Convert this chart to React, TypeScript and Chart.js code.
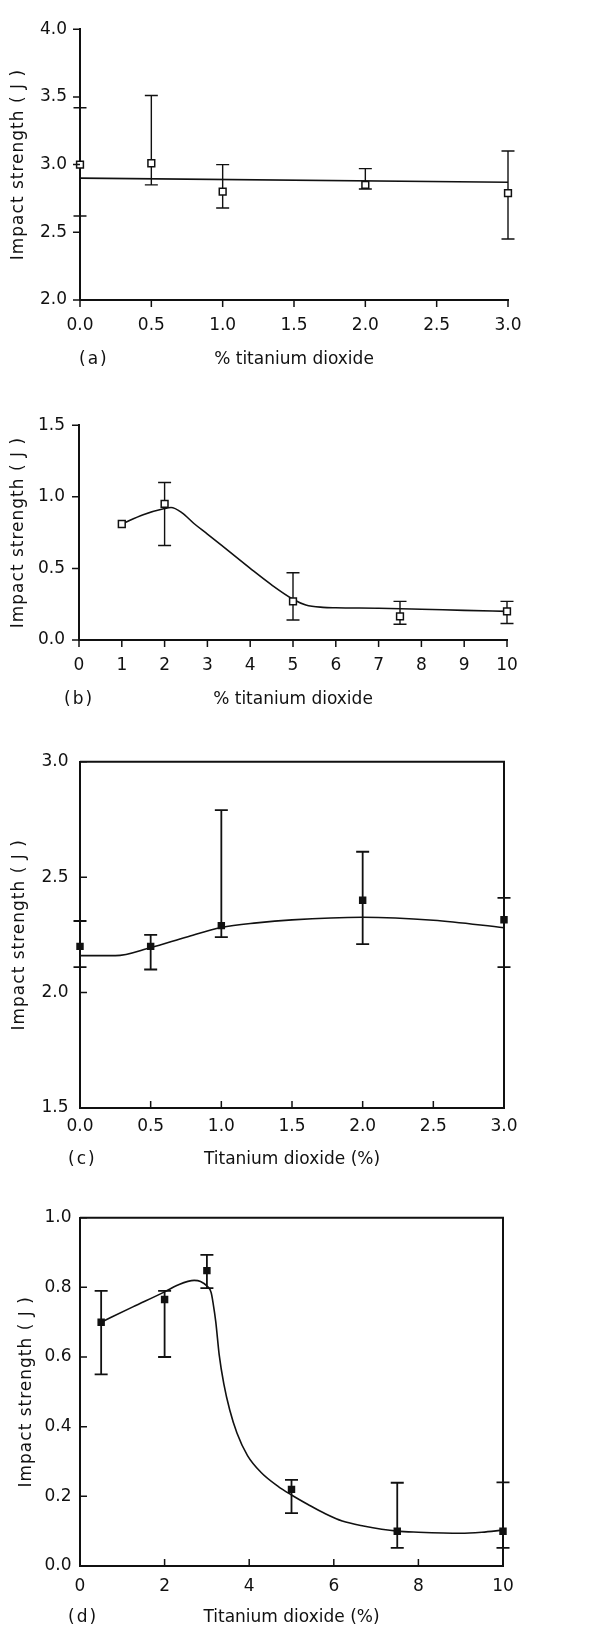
import React, { useEffect, useRef } from 'react';
import { Chart, registerables } from 'chart.js';

Chart.register(...registerables);

const FONT = '"DejaVu Sans", Verdana, sans-serif';
const INK = '#111111';

// ---------- Panel (a) ----------
const aXTicks = [0, 0.5, 1.0, 1.5, 2.0, 2.5, 3.0];
const aYTicks = [2.0, 2.5, 3.0, 3.5, 4.0];
const aX = [0, 0.5, 1.0, 2.0, 3.0];
const aY = [3.0, 3.01, 2.8, 2.85, 2.79];
const aHi = [3.42, 3.51, 3.0, 2.97, 3.1];
const aLo = [2.62, 2.85, 2.68, 2.82, 2.45];
const aFitX = [0, 3.0];
const aFitY = [2.9, 2.87];

// ---------- Panel (b) ----------
const bXTicks = [0, 1, 2, 3, 4, 5, 6, 7, 8, 9, 10];
const bYTicks = [0.0, 0.5, 1.0, 1.5];
const bX = [1, 2, 5, 7.5, 10];
const bY = [0.81, 0.95, 0.27, 0.165, 0.2];
const bHi = [null, 1.1, 0.47, 0.27, 0.27];
const bLo = [null, 0.66, 0.14, 0.11, 0.115];
const bFitX = [1.0, 1.5, 2.0, 2.15, 2.4, 2.7, 3.0, 3.5, 4.0, 4.5, 5.0, 5.3, 5.7, 6.0, 7.0, 8.0, 9.0, 10.0];
const bFitY = [0.81, 0.875, 0.918, 0.925, 0.89, 0.81, 0.74, 0.62, 0.5, 0.385, 0.285, 0.245, 0.228, 0.225, 0.222, 0.215, 0.207, 0.2];

// ---------- Panel (c) ----------
const cXTicks = [0, 0.5, 1.0, 1.5, 2.0, 2.5, 3.0];
const cYTicks = [1.5, 2.0, 2.5, 3.0];
const cX = [0, 0.5, 1.0, 2.0, 3.0];
const cY = [2.2, 2.2, 2.29, 2.4, 2.315];
const cHi = [2.31, 2.25, 2.79, 2.61, 2.41];
const cLo = [2.11, 2.1, 2.24, 2.21, 2.11];
const cFitX = [0, 0.25, 0.5, 0.75, 1.0, 1.25, 1.5, 2.0, 2.5, 3.0];
const cFitY = [2.16, 2.16, 2.195, 2.24, 2.282, 2.302, 2.315, 2.326, 2.313, 2.281];

// ---------- Panel (d) ----------
const dXTicks = [0, 2, 4, 6, 8, 10];
const dYTicks = [0.0, 0.2, 0.4, 0.6, 0.8, 1.0];
const dX = [0.5, 2, 3, 5, 7.5, 10];
const dY = [0.7, 0.765, 0.848, 0.22, 0.1, 0.1];
const dHi = [0.79, 0.79, 0.893, 0.247, 0.239, 0.24];
const dLo = [0.55, 0.6, 0.798, 0.152, 0.052, 0.052];
const dFitX = [0.5, 1.25, 2.0, 2.3, 2.7, 2.85, 3.0, 3.1, 3.15, 3.21, 3.29, 3.4, 3.54, 3.71, 3.96, 4.27, 4.69, 5.0, 5.4, 5.8, 6.2, 6.7, 7.5, 8.0, 9.0, 9.5, 10.0];
const dFitY = [0.7, 0.744, 0.787, 0.806, 0.82, 0.817, 0.804, 0.785, 0.752, 0.701, 0.607, 0.523, 0.448, 0.382, 0.317, 0.27, 0.228, 0.204, 0.176, 0.15, 0.129, 0.115, 0.1, 0.097, 0.094, 0.097, 0.103];

const Y_TITLE = 'Impact strength ( J )';

type Panel = {
  key: string;
  top: number;
  height: number;
  left: number;
  rightPad: number;
  xHeight: number;
  xMin: number; xMax: number; yMin: number; yMax: number;
  xTicks: number[]; yTicks: number[];
  xDec: number; yDec: number;
  xLabelPad: number; yLabelPad: number; yTitleX: number;
  tickOut: boolean;
  frame: boolean;
  filled: boolean;
  barWidth: number;
  px: number[]; py: number[]; hi: (number | null)[]; lo: (number | null)[];
  fx: number[]; fy: number[];
  xTitle: string; tag: string; tagX: number;
};

const panels: Panel[] = [
  {
    key: 'a', top: 6, height: 364, left: 80, rightPad: 101, xHeight: 70,
    xMin: 0, xMax: 3, yMin: 2, yMax: 4, xTicks: aXTicks, yTicks: aYTicks, xDec: 1, yDec: 1,
    xLabelPad: 15.5, yLabelPad: 13, yTitleX: 19, tickOut: true, frame: false, filled: false, barWidth: 1.4,
    px: aX, py: aY, hi: aHi, lo: aLo, fx: aFitX, fy: aFitY,
    xTitle: '% titanium dioxide', tag: '(a)', tagX: 79,
  },
  {
    key: 'b', top: 401, height: 309, left: 79, rightPad: 102, xHeight: 70,
    xMin: 0, xMax: 10, yMin: 0, yMax: 1.5, xTicks: bXTicks, yTicks: bYTicks, xDec: 0, yDec: 1,
    xLabelPad: 15.5, yLabelPad: 14, yTitleX: 19, tickOut: true, frame: false, filled: false, barWidth: 1.4,
    px: bX, py: bY, hi: bHi, lo: bLo, fx: bFitX, fy: bFitY,
    xTitle: '% titanium dioxide', tag: '(b)', tagX: 64,
  },
  {
    key: 'c', top: 740, height: 430, left: 80, rightPad: 105, xHeight: 62,
    xMin: 0, xMax: 3, yMin: 1.5, yMax: 3, xTicks: cXTicks, yTicks: cYTicks, xDec: 1, yDec: 1,
    xLabelPad: 8.5, yLabelPad: 11.5, yTitleX: 20, tickOut: false, frame: true, filled: true, barWidth: 1.8,
    px: cX, py: cY, hi: cHi, lo: cLo, fx: cFitX, fy: cFitY,
    xTitle: 'Titanium dioxide (%)', tag: '(c)', tagX: 68,
  },
  {
    key: 'd', top: 1199, height: 429, left: 80, rightPad: 106, xHeight: 62,
    xMin: 0, xMax: 10, yMin: 0, yMax: 1, xTicks: dXTicks, yTicks: dYTicks, xDec: 0, yDec: 1,
    xLabelPad: 10.5, yLabelPad: 8.5, yTitleX: 27, tickOut: false, frame: true, filled: true, barWidth: 1.8,
    px: dX, py: dY, hi: dHi, lo: dLo, fx: dFitX, fy: dFitY,
    xTitle: 'Titanium dioxide (%)', tag: '(d)', tagX: 68,
  },
];

const decorPlugin = {
  id: 'panelDecor',
  beforeDatasetsDraw(chart: any, _args: any, opts: any) {
    const p: Panel = opts.panel;
    if (!p) return;
    const ctx = chart.ctx;
    const xs = chart.scales.x;
    const ys = chart.scales.y;
    ctx.save();
    ctx.strokeStyle = INK;
    ctx.lineWidth = p.barWidth;
    const cap = 6.5;
    p.px.forEach((xv, i) => {
      const h = p.hi[i];
      const l = p.lo[i];
      if (h == null || l == null) return;
      const x = xs.getPixelForValue(xv);
      const yh = ys.getPixelForValue(h);
      const yl = ys.getPixelForValue(l);
      ctx.beginPath();
      ctx.moveTo(x, yh);
      ctx.lineTo(x, yl);
      ctx.moveTo(x - cap, yh);
      ctx.lineTo(x + cap, yh);
      ctx.moveTo(x - cap, yl);
      ctx.lineTo(x + cap, yl);
      ctx.stroke();
    });
    ctx.restore();
  },
  afterDraw(chart: any, _args: any, opts: any) {
    const p: Panel = opts.panel;
    if (!p) return;
    const ctx = chart.ctx;
    const xs = chart.scales.x;
    const ys = chart.scales.y;
    const a = chart.chartArea;
    const len = 7;
    ctx.save();
    ctx.strokeStyle = INK;
    ctx.lineWidth = 1.5;
    ctx.beginPath();
    p.xTicks.forEach((v) => {
      const x = xs.getPixelForValue(v);
      ctx.moveTo(x, a.bottom);
      ctx.lineTo(x, p.tickOut ? a.bottom + len : a.bottom - len);
    });
    p.yTicks.forEach((v) => {
      const y = ys.getPixelForValue(v);
      ctx.moveTo(a.left, y);
      ctx.lineTo(p.tickOut ? a.left - len : a.left + len, y);
    });
    ctx.stroke();
    if (p.frame) {
      ctx.lineWidth = 2;
      ctx.beginPath();
      ctx.moveTo(a.left, a.top);
      ctx.lineTo(a.right, a.top);
      ctx.lineTo(a.right, a.bottom);
      ctx.stroke();
    }
    ctx.fillStyle = INK;
    ctx.font = `17px ${FONT}`;
    ctx.textBaseline = 'middle';
    // y-axis title
    ctx.save();
    (ctx as any).letterSpacing = '1px';
    ctx.translate(p.yTitleX, (a.top + a.bottom) / 2);
    ctx.rotate(-Math.PI / 2);
    ctx.textAlign = 'center';
    ctx.fillText(Y_TITLE, 0, 0);
    ctx.restore();
    // panel tag
    (ctx as any).letterSpacing = '2px';
    ctx.textAlign = 'left';
    ctx.fillText(p.tag, p.tagX, xs.bottom - 10.2);
    ctx.restore();
  },
};

function PanelChart({ p }: { p: Panel }) {
  const ref = useRef<HTMLCanvasElement | null>(null);
  useEffect(() => {
    if (!ref.current) return;
    const points = p.px.map((x, i) => ({ x, y: p.py[i] }));
    const fit = p.fx.map((x, i) => ({ x, y: p.fy[i] }));
    const chart = new Chart(ref.current, {
      type: 'scatter',
      data: {
        datasets: [
          {
            data: points,
            pointStyle: 'rect',
            pointRadius: p.filled ? 4.2 : 4.8,
            pointBorderWidth: 1.5,
            pointBorderColor: INK,
            pointBackgroundColor: p.filled ? INK : '#ffffff',
            showLine: false,
            clip: false as any,
          },
          {
            data: fit,
            showLine: true,
            pointRadius: 0,
            borderColor: INK,
            borderWidth: 1.6,
            cubicInterpolationMode: 'monotone',
            clip: false as any,
          } as any,
        ],
      },
      plugins: [decorPlugin as any],
      options: {
        responsive: false,
        animation: false,
        events: [],
        layout: { padding: { top: 12, right: p.rightPad, bottom: 0, left: 0 } },
        plugins: {
          legend: { display: false },
          tooltip: { enabled: false },
          panelDecor: { panel: p },
        } as any,
        scales: {
          x: {
            type: 'linear',
            min: p.xMin,
            max: p.xMax,
            grid: { display: false, drawTicks: false },
            border: { display: true, color: INK, width: 2 },
            afterBuildTicks: (s: any) => {
              s.ticks = p.xTicks.map((v) => ({ value: v }));
            },
            afterFit: (s: any) => {
              s.height = p.xHeight;
            },
            ticks: {
              color: INK,
              padding: p.xLabelPad,
              maxRotation: 0,
              autoSkip: false,
              font: { family: FONT, size: 17 },
              callback: (v: any) => Number(v).toFixed(p.xDec),
            },
            title: {
              display: true,
              text: p.xTitle,
              color: INK,
              padding: { top: 0, bottom: 0 },
              font: { family: FONT, size: 17 },
            },
          },
          y: {
            type: 'linear',
            min: p.yMin,
            max: p.yMax,
            grid: { display: false, drawTicks: false },
            border: { display: true, color: INK, width: 2 },
            afterBuildTicks: (s: any) => {
              s.ticks = p.yTicks.map((v) => ({ value: v }));
            },
            afterFit: (s: any) => {
              s.width = p.left;
            },
            ticks: {
              color: INK,
              padding: p.yLabelPad,
              autoSkip: false,
              font: { family: FONT, size: 17 },
              callback: (v: any) => Number(v).toFixed(p.yDec),
            },
            title: { display: false },
          },
        },
      } as any,
    });
    return () => chart.destroy();
  }, [p]);
  return (
    <div style={{ position: 'absolute', left: 0, top: p.top, width: 609, height: p.height }}>
      <canvas ref={ref} width={609} height={p.height} style={{ display: 'block' }} />
    </div>
  );
}

export default function App() {
  return (
    <div style={{ position: 'absolute', left: 0, top: 0, width: 609, height: 1628, background: '#ffffff', overflow: 'hidden' }}>
      {panels.map((p) => (
        <PanelChart key={p.key} p={p} />
      ))}
    </div>
  );
}
